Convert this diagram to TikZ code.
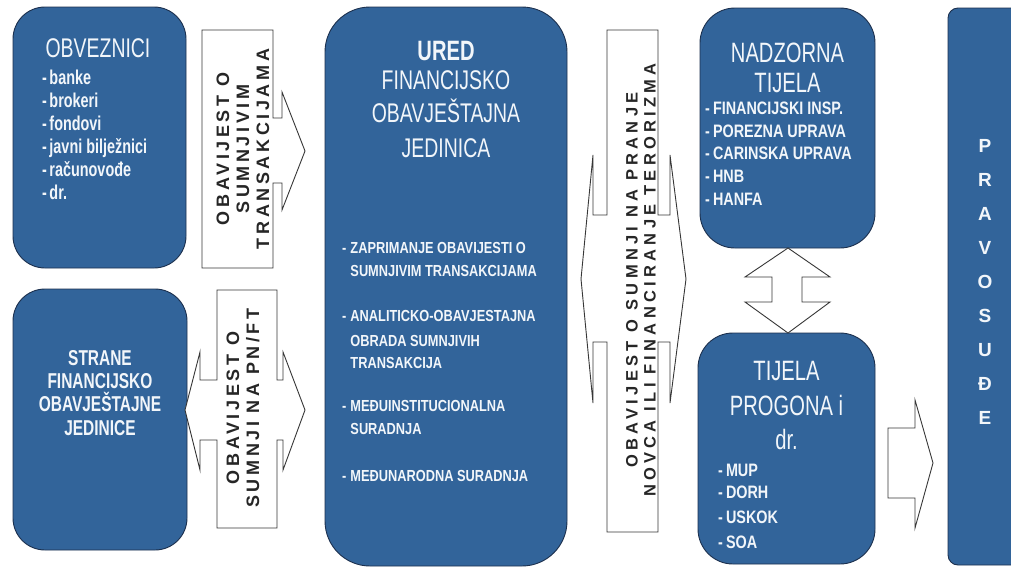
\documentclass[tikz,border=0pt]{standalone}
\usepackage{fontspec}
\setmainfont{Liberation Sans}
\newfontfamily\condt[FakeStretch=0.72]{Liberation Sans}
\newfontfamily\condl[FakeStretch=0.8]{Liberation Sans}
\newfontfamily\spacedA[LetterSpace=20]{Liberation Sans}
\newfontfamily\spacedC[LetterSpace=26]{Liberation Sans}
\definecolor{boxblue}{RGB}{50,100,154}
\definecolor{boxedge}{RGB}{28,48,78}
\definecolor{arredge}{RGB}{55,55,55}
\definecolor{wtxt}{RGB}{242,246,250}
\begin{document}
\begin{tikzpicture}[x=1pt,y=-1pt,
  box/.style={draw=boxedge, fill=boxblue, line width=0.9pt, inner sep=0pt, rectangle},
  blockarrow/.style={draw=arredge, fill=white, line width=0.9pt, line join=miter},
  wt/.style={text=wtxt, inner sep=0pt},
  ttl/.style={wt, anchor=base, font=\condt\fontsize{27}{30}\selectfont},
  lst/.style={wt, anchor=base west, font=\condl\bfseries\fontsize{18}{20}\selectfont},
  arrtxt/.style={inner sep=0pt, text=black!85, align=center, rotate=90},
]
\useasboundingbox (0,0) rectangle (1011,568);
\clip (0,0) rectangle (1011,568);
\fill[white] (0,0) rectangle (1011,568);

% ---------- boxes ----------
\node[box, minimum width=173pt, minimum height=261pt, rounded corners=32pt] (obv) at (99.5,137.5) {};
\node[box, minimum width=174pt, minimum height=261pt, rounded corners=32pt] (str) at (100,419.5) {};
\node[box, minimum width=242pt, minimum height=559pt, rounded corners=45pt] (ured) at (446,286.5) {};
\node[box, minimum width=175pt, minimum height=240pt, rounded corners=35pt] (nad) at (787.5,128) {};
\node[box, minimum width=177pt, minimum height=231pt, rounded corners=35pt] (tij) at (786.5,448.5) {};
\node[box, minimum width=82pt, minimum height=557pt, rounded corners=10pt] (prav) at (989,286.5) {};

% ---------- block arrows ----------
\draw[blockarrow] (202,30) -- (273,30) -- (273,118) -- (282,118) -- (282,92) -- (305,151)
  -- (282,210) -- (282,183) -- (273,183) -- (273,268) -- (202,268) -- cycle;
\node[arrtxt, font=\spacedA\bfseries\fontsize{18}{20}\selectfont] (txtA) at (243,149)
  {OBAVIJEST O\\SUMNJIVIM\\TRANSAKCIJAMA};

\draw[blockarrow] (217,290) -- (277,290) -- (277,380) -- (283,380) -- (283,352) -- (305,410)
  -- (283,470) -- (283,440) -- (277,440) -- (277,528) -- (217,528) -- (217,440) -- (200,440)
  -- (200,470) -- (185,410) -- (200,352) -- (200,380) -- (217,380) -- cycle;
\node[arrtxt, font=\spacedA\bfseries\fontsize{18}{20}\selectfont] (txtB) at (243,408)
  {OBAVIJEST O\\SUMNJI NA PN/FT};

\draw[blockarrow] (607,30) -- (658,30) -- (658,215) -- (670,215) -- (670,155) -- (686,279)
  -- (670,403) -- (670,342) -- (658,342) -- (658,532) -- (607,532) -- (607,342) -- (593,342)
  -- (593,403) -- (581,279) -- (593,155) -- (593,215) -- (607,215) -- cycle;
\node[arrtxt, font=\spacedC\bfseries\fontsize{16.5}{18}\selectfont] (txtC) at (641,280)
  {OBAVIJEST O SUMNJI NA PRANJE\\NOVCA ILI FINANCIRANJE TERORIZMA};

\draw[blockarrow] (788,248) -- (830,277) -- (802,277) -- (802,302) -- (830,302) -- (788,333)
  -- (745,302) -- (772,302) -- (772,277) -- (745,277) -- cycle;

\draw[blockarrow] (888,428) -- (915,428) -- (915,400) -- (933,463) -- (915,528) -- (915,498)
  -- (888,498) -- cycle;

% ---------- OBVEZNICI ----------
\node[ttl] (obvT) at (98,57.5) {OBVEZNICI};
\foreach \t/\yy [count=\i] in {banke/84, brokeri/107, fondovi/130, javni bilježnici/153, računovođe/176, dr./199}
  \node[lst, font=\condt\bfseries\fontsize{20}{22}\selectfont] (obv\i) at (42,\yy) {-\hspace{2.5pt}\t};

% ---------- STRANE ----------
\foreach \t/\yy [count=\i] in {STRANE/365, FINANCIJSKO/388, OBAVJEŠTAJNE/411, JEDINICE/435}
  \node[wt, anchor=base, font=\condt\bfseries\fontsize{21.5}{22}\selectfont] (str\i) at (100,\yy) {\t};

% ---------- URED ----------
\node[wt, anchor=base, font=\condt\bfseries\fontsize{28}{30}\selectfont] (uredT) at (446,60) {URED};
\foreach \t/\yy [count=\i] in {FINANCIJSKO/89.7, OBAVJEŠTAJNA/122.7, JEDINICA/157.7}
  \node[ttl, font=\condt\fontsize{27}{30}\selectfont] (uredL\i) at (446,\yy) {\t};

\foreach \t/\yy [count=\i] in {-\hspace{4pt}ZAPRIMANJE OBAVIJESTI O/253,
  \phantom{-}\hspace{4pt}SUMNJIVIM TRANSAKCIJAMA/276,
  -\hspace{4pt}ANALITICKO-OBAVJESTAJNA/321,
  \phantom{-}\hspace{4pt}OBRADA SUMNJIVIH/346,
  \phantom{-}\hspace{4pt}TRANSAKCIJA/368,
  -\hspace{4pt}MEĐUINSTITUCIONALNA/411,
  \phantom{-}\hspace{4pt}SURADNJA/434,
  -\hspace{4pt}MEĐUNARODNA SURADNJA/481}
  \node[lst, font=\condl\bfseries\fontsize{16}{18}\selectfont] (uredI\i) at (342,\yy) {\t};

% ---------- NADZORNA TIJELA ----------
\node[ttl, font=\condt\fontsize{28}{30}\selectfont] (nadT1) at (787.5,62) {NADZORNA};
\node[ttl, font=\condt\fontsize{28}{30}\selectfont] (nadT2) at (787.5,92) {TIJELA};
\foreach \t/\yy [count=\i] in {FINANCIJSKI INSP./114, POREZNA UPRAVA/137, CARINSKA UPRAVA/159, HNB/182, HANFA/205}
  \node[lst] (nadI\i) at (705,\yy) {-\hspace{3pt}\t};

% ---------- TIJELA PROGONA ----------
\node[ttl, font=\condt\fontsize{28}{30}\selectfont] (tijT1) at (786.5,380) {TIJELA};
\node[ttl, font=\condt\fontsize{28}{30}\selectfont] (tijT2) at (786.5,415) {PROGONA i};
\node[ttl, font=\condt\fontsize{28}{30}\selectfont] (tijT3) at (786.5,449) {dr.};
\foreach \t/\yy [count=\i] in {MUP/476, DORH/498, USKOK/523, SOA/548}
  \node[lst] (tijI\i) at (718,\yy) {-\hspace{3pt}\t};

% ---------- PRAVOSUDE ----------
\foreach \t/\yy [count=\i] in {P/145, R/179, A/213, V/247, O/281, S/315, U/349, Đ/383, E/417}
  \node[wt, anchor=base, font=\bfseries\fontsize{19}{20}\selectfont] (prav\i) at (985,\yy+7) {\t};
\end{tikzpicture}
\end{document}
